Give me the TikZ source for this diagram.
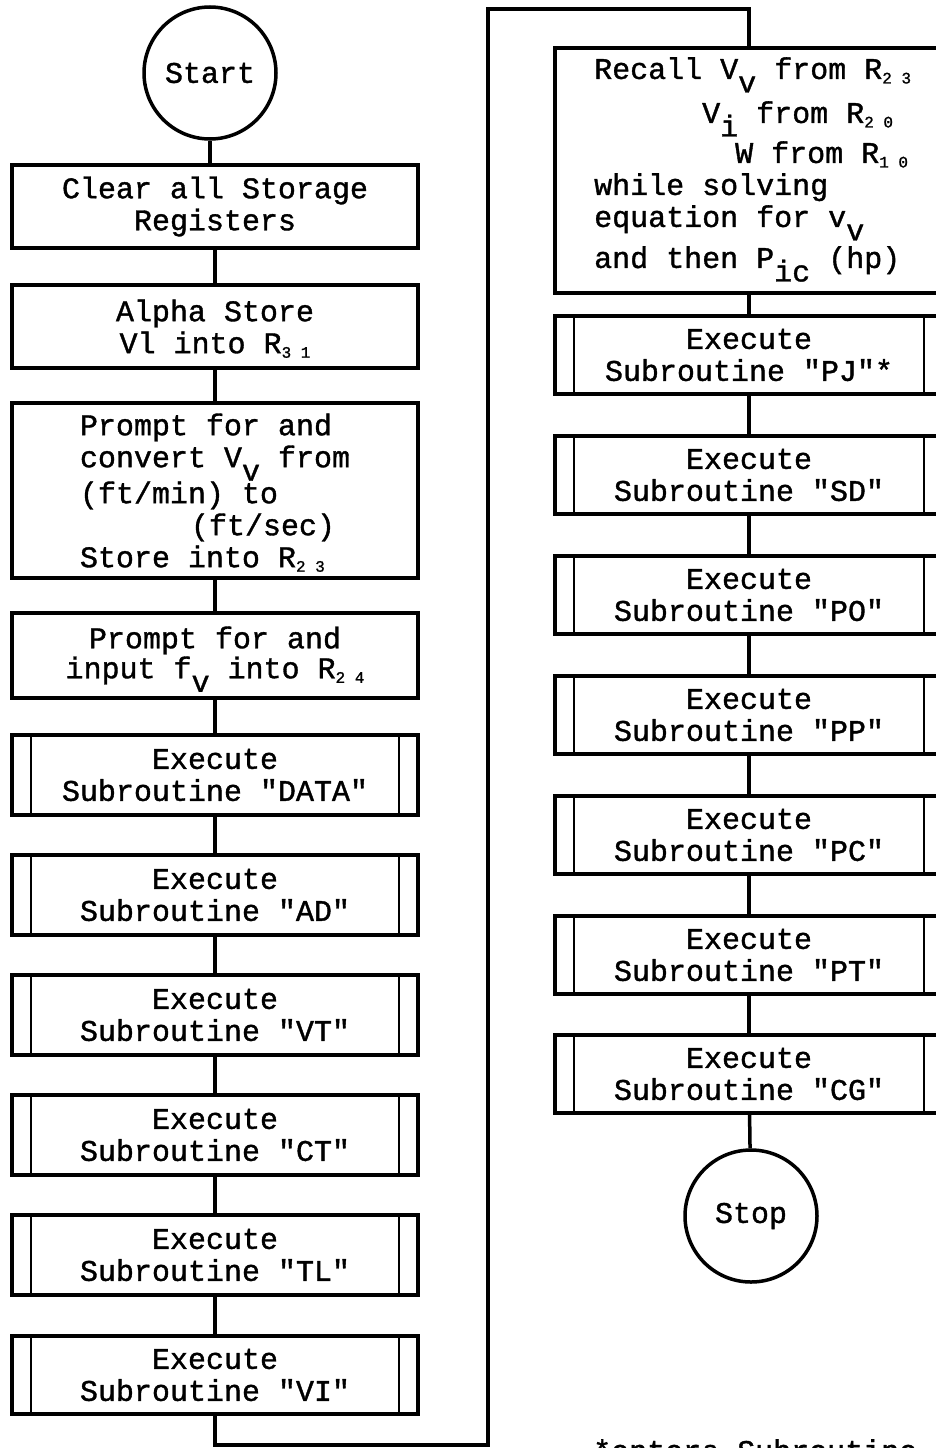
\documentclass[tikz,border=0pt]{standalone}
\usepackage{fontspec}
\newfontfamily\tw[FakeBold=1.2]{Liberation Mono}
% subscript letter lowered about half a line
\newcommand\lo[1]{\smash{\raisebox{-0.45em}{#1}}}
% small register digits
\newcommand\rg[1]{\smash{\raisebox{-0.15em}{\fontsize{16}{16}\selectfont #1}}}
\begin{document}
\begin{tikzpicture}[x=1pt,y=-1pt,
  every node/.style={font=\tw\fontsize{30}{32}\selectfont, inner sep=0pt},
  conn/.style={line width=3.5pt},
  box/.style={draw, line width=3.5pt, minimum width=406pt, align=center},
  rbox/.style={draw, line width=3.5pt, minimum width=388pt, align=center},
  subr/.style={path picture={\draw[line width=2.5pt]
      ([xshift=19pt]path picture bounding box.north west) -- ([xshift=19pt]path picture bounding box.south west)
      ([xshift=-19pt]path picture bounding box.north east) -- ([xshift=-19pt]path picture bounding box.south east);}},
  term/.style={draw, circle, line width=3.5pt, minimum size=132pt}]
\useasboundingbox (0,0) rectangle (936,1448);
\clip (0,0) rectangle (936,1448);
\fill[white] (0,0) rectangle (936,1448);

% left column
\node[term] (start) at (210,73) {Start};
\node[box, minimum height=83pt] (clear) at (215,206.5) {Clear all Storage\\Registers};
\node[box, minimum height=83pt] (alpha) at (215,326.5) {Alpha Store\\Vl into R\rg{3 1}};
\node[box, minimum height=175pt, align=left] (conv) at (215,490.5) {Prompt for and\\convert V\lo{v} from\\[4pt](ft/min) to\\\hspace*{3.7em}(ft/sec)\\Store into R\rg{2 3}};
\node[box, minimum height=85pt] (inp) at (215,655.5) {Prompt for and\\[-2pt]input f\lo{v} into R\rg{2 4}};
\node[box, subr, minimum height=80pt] (data) at (215,775) {Execute\\Subroutine "DATA"};
\node[box, subr, minimum height=80pt] (ad) at (215,895) {Execute\\Subroutine "AD"};
\node[box, subr, minimum height=80pt] (vt) at (215,1015) {Execute\\Subroutine "VT"};
\node[box, subr, minimum height=80pt] (ct) at (215,1135) {Execute\\Subroutine "CT"};
\node[box, subr, minimum height=80pt] (tl) at (215,1255) {Execute\\Subroutine "TL"};
\node[box, subr, minimum height=78pt] (vi) at (215,1375) {Execute\\Subroutine "VI"};

% right column
\node[rbox, minimum height=245pt] (recall) at (749,170.5) {};
\node[anchor=north west, align=left] (recalltxt) at (594,57) {Recall V\lo{v} from R\rg{2 3}\\[12pt]\hspace*{3.6em}V\lo{i} from R\rg{2 0}\\[8pt]\hspace*{4.7em}W from R\rg{1 0}\\while solving\\equation for v\lo{v}\\[9pt]and then P\lo{ic} (hp)};
\node[rbox, subr, minimum height=78pt] (pj) at (749,355) {Execute\\Subroutine "PJ"*};
\node[rbox, subr, minimum height=78pt] (sd) at (749,475) {Execute\\Subroutine "SD"};
\node[rbox, subr, minimum height=78pt] (po) at (749,595) {Execute\\Subroutine "PO"};
\node[rbox, subr, minimum height=78pt] (pp) at (749,715) {Execute\\Subroutine "PP"};
\node[rbox, subr, minimum height=78pt] (pc) at (749,835) {Execute\\Subroutine "PC"};
\node[rbox, subr, minimum height=78pt] (pt) at (749,955) {Execute\\Subroutine "PT"};
\node[rbox, subr, minimum height=78pt] (cg) at (749,1074) {Execute\\Subroutine "CG"};
\node[term] (stop) at (751,1216) {Stop};
\node[anchor=north west] (note) at (593,1439) {*enters Subroutine};

% connectors
\draw[conn] (start.south) -- (start.south |- clear.north);
\foreach \a/\b in {clear/alpha, alpha/conv, conv/inp, inp/data, data/ad, ad/vt, vt/ct, ct/tl, tl/vi,
                   recall/pj, pj/sd, sd/po, po/pp, pp/pc, pc/pt, pt/cg, cg/stop}
  \draw[conn] (\a) -- (\b);
\coordinate (lb) at (488,1445);
\coordinate (lt) at (488,9);
\draw[conn] (vi.south) |- (lb) -- (lt) -| (recall.north);
\end{tikzpicture}
\end{document}
